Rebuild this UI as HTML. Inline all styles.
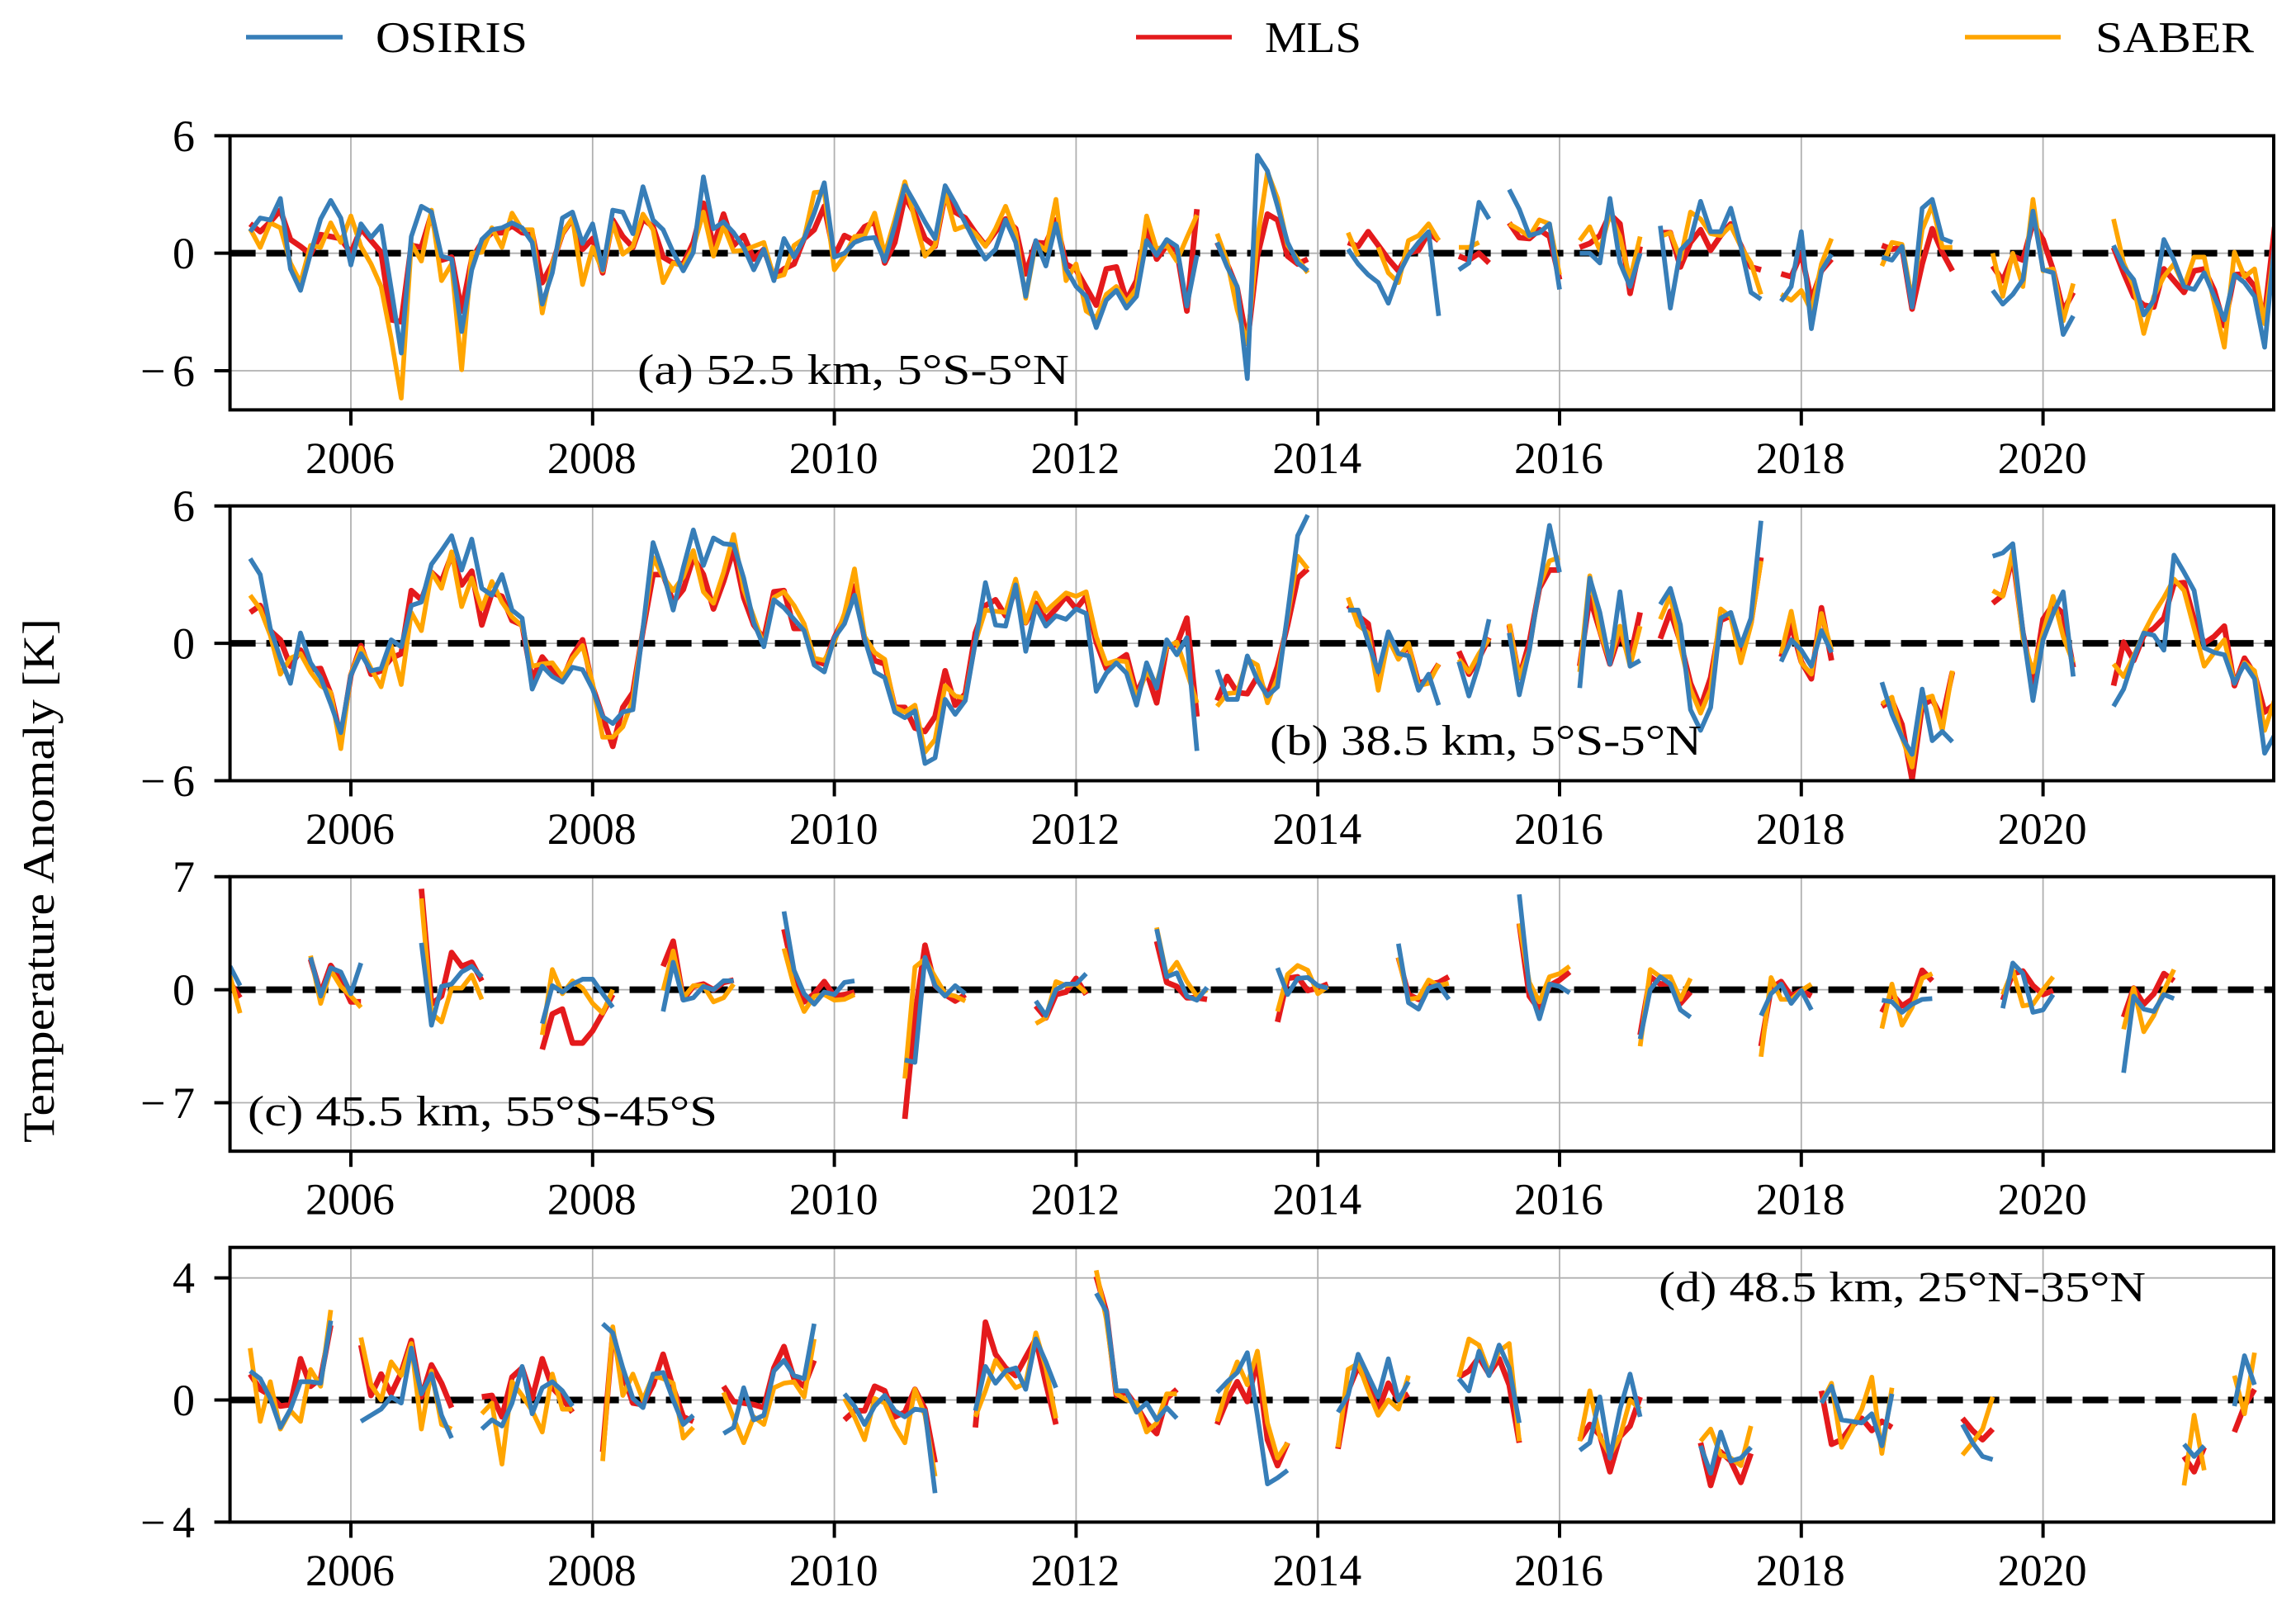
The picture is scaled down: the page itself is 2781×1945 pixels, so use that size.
<!DOCTYPE html>
<html lang="en">
<head>
<meta charset="utf-8">
<title>Temperature Anomaly</title>
<style>
html,body{margin:0;padding:0;background:#fff}
svg{display:block}
text{font-family:"Liberation Serif",serif;fill:#000}
</style>
</head>
<body>
<svg id="chart" xmlns="http://www.w3.org/2000/svg" width="2781" height="1945" viewBox="0 0 2781 1945">
  <rect x="0" y="0" width="2781" height="1945" fill="#ffffff"/>
  <g>
    <g>
      <line x1="298" y1="45" x2="415" y2="45" stroke="#377eb8" stroke-width="5.6"/>
      <text x="455" y="63" font-size="53" textLength="184" lengthAdjust="spacingAndGlyphs">OSIRIS</text>
    </g>
    <g>
      <line x1="1376" y1="45" x2="1492" y2="45" stroke="#e41a1c" stroke-width="5.6"/>
      <text x="1532" y="63" font-size="53" textLength="117" lengthAdjust="spacingAndGlyphs">MLS</text>
    </g>
    <g>
      <line x1="2380" y1="45" x2="2496" y2="45" stroke="#ffa500" stroke-width="5.6"/>
      <text x="2538" y="63" font-size="53" textLength="192" lengthAdjust="spacingAndGlyphs">SABER</text>
    </g>
  </g>
  <text transform="translate(65,1384) rotate(-90)" font-size="54" textLength="635" lengthAdjust="spacingAndGlyphs">Temperature Anomaly [K]</text>
  <g id="panels"></g>
</svg>
<script>
const xTickYears = [2006, 2008, 2010, 2012, 2014, 2016, 2018, 2020];
const startYear = 2005;

const yTicksA = [6, 0, -6];
const yTicksB = [6, 0, -6];
const yTicksC = [7, 0, -7];
const yTicksD = [4, 0, -4];

/* Panel (a): monthly values from Jan 2005, null = no data */
const aOsiris = [null,null,
1.1,1.8,1.7,2.8,-0.8,-1.9,0,1.75,2.7,1.8,-0.6,1.5,0.8,1.4,-1.8,-5.1,0.85,2.4,2.1,-0.15,-0.3,-4.0,-0.85,0.7,1.2,1.3,1.55,1.3,0.55,-2.6,-1.0,1.8,2.1,0.5,1.5,-0.85,2.2,2.1,1.0,3.4,1.7,1.2,0.05,-0.9,0.05,3.9,1.25,1.6,1.05,0.3,-0.85,0.2,-1.4,0.75,-0.2,0.75,2.05,3.6,-0.2,0,0.55,0.75,0.8,-0.4,1.4,3.45,2.55,1.6,0.75,3.45,2.55,1.55,0.55,-0.3,0.2,1.7,0.55,-2.2,0.65,-0.65,1.5,-0.8,-1.7,-2.2,-3.8,-2.4,-1.9,-2.8,-2.2,0.65,-0.1,0.7,0.35,-2.7,-0.1,
null,
0.55,-0.7,-1.7,-6.4,5,4.2,2.4,0.55,-0.5,-0.9,
null,null,null,
0.2,-0.55,-1.1,-1.5,-2.55,-1.1,-0.1,0.55,1.1,-3.2,
null,
-0.85,-0.5,2.6,1.75,
null,
3.25,2.25,0.9,1.05,1.5,-1.85,
null,
0,0,-0.5,2.8,-0.5,-1.7,0,
null,
1.4,-2.8,0.15,0.7,2.65,1.1,1.1,2.3,0.35,-2,-2.35,
null,
-2.45,-1.7,1.1,-3.85,-0.9,-0.05,
null,null,null,null,
-0.2,-0.35,0.35,-2.75,2.3,2.75,0.75,0.55,
null,null,null,
-1.9,-2.6,-2.1,-1.35,2.15,-0.85,-1,-4.15,-3.2,
null,null,null,
0.4,-0.7,-1.35,-3.15,-2.4,0.7,-0.35,-1.7,-1.85,-1,-2.2,-3.4,-1.1,-1.5,-2.2,-4.8,0.55];

const aMls = [null,null,
1.5,1.1,1.6,2.2,0.7,0.35,-0.05,0.95,0.85,0.75,0,1.25,0.65,0.05,-3.4,-3.5,0.4,0.3,2,-0.35,-0.2,-2.95,-0.3,0.55,1.05,1.05,1.4,1.05,1,-1.5,-0.55,1,1.75,0.2,0.75,-1,1.7,0.85,0.3,1.75,1.35,-0.2,-0.5,-0.55,0.55,2.55,0.35,2,0.4,0.9,-0.3,0.2,-1.2,-0.8,-0.55,0.75,1.2,2.4,-0.15,0.9,0.65,1.35,1.6,-0.5,0.55,2.9,2,0.75,0.35,3,2.1,1.8,1.05,0.4,1.1,1.75,1.25,-1.05,0.55,0.5,1.7,-0.55,-0.85,-1.75,-2.65,-0.8,-0.7,-2.4,-1.4,1.35,-0.3,0.4,0.15,-2.95,2.25,
null,
0.55,-0.55,-1.8,-4.6,-0.15,2,1.7,-0.15,-0.55,-0.3,
null,null,null,
0.55,0.35,1.1,0.4,-0.3,-0.9,0,0.15,1.05,0.65,
null,
-0.15,-0.35,0,-0.5,
null,
1.55,0.8,0.75,1.2,0.85,-1.35,
null,
0.3,0.5,0.9,2,1.5,-2.05,0.35,
null,
1.05,1.05,-0.7,0.55,1.2,0.15,0.9,1.5,0.4,-0.7,-0.85,
null,
-1.05,-1.2,0,-2.4,-0.9,-0.3,
null,null,null,null,
0.4,0.2,0.3,-2.85,-0.55,1.25,0.05,-0.9,
null,null,null,
-0.65,-1.4,-0.15,-0.35,1.55,0.7,-0.85,-2.95,-2,
null,null,null,
0.3,-1,-2.2,-2.65,-2.75,-0.8,-1.4,-2,-0.9,-0.8,-1.9,-3.7,-1.1,-1.05,-1.7,-3.2,1.35];

const aSaber = [null,null,
1.25,0.3,1.55,1.3,-0.5,-1.5,0.4,0.3,1.55,0.55,1.9,0.35,-0.55,-1.7,-4.35,-7.4,0.5,-0.4,2.2,-1.4,-0.55,-5.95,0,0.05,1.3,0.3,2.05,1.2,1.2,-3.05,-0.55,1,1.8,-1.6,0.3,-0.9,1.55,-0.05,0.35,2,1.2,-1.5,-0.5,-0.65,0.3,2.1,-0.15,1.4,0.1,0.15,0.35,0.55,-1.25,-1.1,0.4,0.75,3.1,3.15,-0.85,-0.15,0.85,0.9,2.05,-0.05,1.7,3.65,1.7,-0.15,0.4,3.1,1.2,1.4,1,0.35,1.25,2.4,1.05,-2.3,0.55,0.15,2.75,-1.4,-0.55,-2.95,-3.3,-2.1,-1.7,-2.5,-1.8,1.9,0.2,0.4,-0.4,0.8,1.95,
null,
1,-0.4,-2.9,-4.6,0.7,4.15,2.8,0.4,-0.3,-1,
null,null,null,
1.05,-0.15,null,0.3,-1,-1.5,0.65,0.9,1.5,0.65,
null,
0.3,0.3,0.55,null,
null,
1.5,1.2,0.85,1.7,1.5,-1.1,
null,
0.65,1.35,0.15,2,0.85,-1.35,0.85,
null,
0.85,1.05,-0.3,2.1,1.75,1,0.9,1.4,0.35,-0.5,-2.1,
null,
-2.1,-2.4,-1.9,-2.95,-0.55,0.75,
null,null,null,null,
-0.65,0.55,0.45,-2.4,1.2,2.45,0.3,0.3,
null,null,null,
0,-2.2,0,-1.7,2.75,-0.9,-0.8,-3.45,-1.55,
null,null,null,
1.75,-0.5,-1.7,-4.1,-2.2,-1.2,-0.55,-1.7,-0.2,-0.2,-2.55,-4.8,0.05,-1.2,-0.8,-3.6,0.4];

/* Panel (b) */
const bOsiris = [null,null,
3.7,3,0.65,-0.65,-1.75,0.45,-0.85,-1.5,-2.65,-3.9,-1.4,-0.45,-1.2,-1.1,0.15,-0.15,1.65,1.8,3.45,4.05,4.7,3.2,4.55,2.4,2.1,3,1.45,1.1,-2,-1,-1.45,-1.7,-1.05,-1.15,-2,-3.2,-3.5,-3,-2.9,0.65,4.4,3.1,1.45,3.3,4.95,3.4,4.6,4.35,4.3,2.85,0.9,-0.15,1.9,1.55,1.05,0.55,-0.95,-1.25,0.25,0.85,2.1,0.2,-1.25,-1.5,-3,-3.25,-2.95,-5.25,-5,-2.45,-3.1,-2.5,0.05,2.65,0.8,0.75,2.55,-0.35,1.6,0.75,1.2,1.05,1.5,1.3,-2.1,-1.3,-0.85,-1.3,-2.7,-0.85,-1.95,0.15,-0.5,0.25,-4.7,
null,
-1.15,-2.45,-2.45,-0.55,-1.6,-2.3,-1.9,1.3,4.7,5.6,
null,null,null,
1.45,1.45,0.05,-1.25,0.5,-0.45,-0.55,-2.05,-1.35,-2.7,
null,
-0.8,-2.3,-0.9,1.05,
null,
0.45,-2.25,-0.3,2.5,5.15,3.1,
null,
-1.95,2.85,1.35,-0.9,2.25,-1,-0.75,
null,
1.7,2.4,0.8,-2.9,-3.8,-2.8,1.1,1.35,-0.1,1.1,5.35,
null,
-0.8,0.15,-0.3,-1,0.55,-0.4,
null,null,null,null,
-1.7,-3.1,-4.1,-4.85,-2,-4.25,-3.85,-4.3,
null,null,null,
3.8,3.95,4.35,0.55,-2.5,0.15,1.3,2.25,-1.45,
null,null,null,
-2.75,-2,-0.65,0.45,0.35,-0.3,3.85,3.1,2.3,-0.2,-0.4,-0.5,-1.75,-0.9,-1.55,-4.8,-4];

const bMls = [null,null,
1.35,1.65,0.55,0.15,-1,-0.3,-1.15,-1.1,-2.2,-4.15,-1.4,-0.1,-1.35,-1.2,-0.65,-0.45,2.3,1.9,3.1,2.7,3.85,2.55,3.15,0.8,2.2,2.05,1,0.8,-1.6,-0.6,-1.15,-1.6,-0.55,0.15,-1.9,-3.2,-4.5,-2.8,-2.15,0.55,3,3,1.8,2.35,3.75,3,1.5,2.7,4.1,2,0.8,0.2,2.25,2.3,0.65,0.65,-0.75,-0.9,0.25,1.15,2.5,0.2,-0.75,-0.9,-2.8,-2.8,-3.7,-3.85,-3.2,-1.2,-2.7,-2.2,0.45,1.65,1.9,1.2,2.35,0.9,1.75,1.05,1.5,2.05,1.5,2.05,0.05,-1.1,-0.8,-0.5,-2.2,-1.25,-2.6,-0.15,-0.05,1.1,-3.2,
null,
-2.5,-1.45,-2.15,-2.2,-1.45,-2.3,-1,0.8,2.85,3.25,
null,null,null,
1.65,1.2,0.85,-1.75,0.3,-0.65,-0.1,-1.75,-1.6,-0.9,
null,
-0.35,-1.35,-0.65,0.25,
null,
0.8,-1.5,0.05,2.4,3.2,3.2,
null,
-1,2,0.55,-0.9,0.45,-0.65,1.35,
null,
0.2,1.4,0.05,-1.75,-2.8,-1.5,1,1.2,-0.45,0.9,3.75,
null,
-0.6,0.8,-0.8,-1.55,1.55,-0.75,
null,null,null,null,
-2.75,-2.5,-3.55,-5.95,-2.7,-2.45,-3.3,-1.25,
null,null,null,
1.75,2.1,3.8,0.45,-1.75,1.05,1.7,1.3,-1.05,
null,null,null,
-1.85,0.05,-0.75,0.35,0.65,1.1,2.6,2.65,1.05,0,0.3,0.75,-1.85,-0.65,-1.35,-3,-2.65];

const bSaber = [null,null,
2.1,1.5,0.35,-1.35,-0.65,-0.45,-1.25,-1.85,-2.15,-4.6,-1.35,-0.2,-1.1,-1.9,-0.1,-1.8,1.35,0.55,3.1,2.4,4,1.6,2.85,1.5,2.7,1.8,1.15,0.75,-1,-0.9,-0.85,-1.45,-0.65,-0.1,-1.75,-4.1,-4.1,-3.65,-2.45,0.65,3.75,2.9,2.3,2.9,4.05,2.25,1.75,3.1,4.75,2.35,1.15,-0.1,2,2.25,1.65,0.85,-0.65,-0.75,0.05,1.3,3.25,0.3,-0.4,-0.7,-2.8,-3,-2.7,-4.75,-4.2,-1.85,-2.3,-2.4,0.05,1.45,1.4,1.35,2.8,0.9,2.2,1.4,1.8,2.2,2.05,2.25,0.3,-0.9,-0.75,-0.8,-2.4,-1.25,-1.75,-0.15,0.05,-1.25,-2.6,
null,
-2.75,-2.2,-2.15,-0.7,-0.95,-2.6,-1.5,1.15,3.8,3.25,
null,null,null,
2,0.8,0.45,-2.05,0.2,-0.7,0,-1.85,-1.75,-0.9,
null,
-0.7,-1.25,-0.45,0.2,
null,
0.85,-1.5,-0.3,2.5,3.6,3.75,
null,
-1.25,2.95,0.55,-0.8,0.75,-1,0.75,
null,
1.05,2.1,-0.15,-2,-3.05,-2,1.5,1.15,-0.85,0.8,3.6,
null,
-0.45,1.4,-0.85,-1.35,1.3,-0.3,
null,null,null,null,
-2.65,-2.35,-4.1,-5.4,-2.45,-2.3,-3.8,-1.2,
null,null,null,
2.3,2.05,4.05,0.2,-1.25,0.45,2.05,0.3,-0.85,
null,null,null,
-0.9,-1.45,-0.55,0.45,1.3,2,2.8,2.3,0.65,-1,-0.4,0.15,-1.75,-0.85,-1.2,-3.8,-2.45];

/* Panel (c) */
const cOsiris = [1.45,0.25,
null,null,null,null,null,null,
2,-0.4,1.35,1.1,-0.25,1.65,
null,null,null,null,null,
2.9,-2.2,0.2,0.35,1.1,1.45,0.8,
null,null,null,null,null,
-2.1,0.25,-0.15,0.35,0.65,0.65,-0.25,-1.1,
null,null,null,null,
-1.35,1.7,-0.65,-0.5,0.2,0,0.55,0.55,
null,null,null,null,
4.85,1.2,-0.25,-0.9,-0.15,-0.3,0.45,0.55,
null,null,null,null,
-4.35,-4.5,2,0.25,-0.4,0.25,-0.25,
null,null,null,null,null,null,
-0.7,-1.6,0,0.35,0.35,1,
null,null,null,null,null,null,
3.75,0.8,1.05,-0.4,-0.65,0.15,
null,null,null,null,null,null,
1.35,-0.3,0.7,0.75,0.25,0.1,
null,null,null,null,null,null,
2.85,-0.8,-1.2,0.1,0.3,-0.6,
null,null,null,null,null,null,
5.9,0.1,-1.8,0.35,0.2,-0.2,
null,null,null,null,null,null,
-3.05,0,0.8,0.35,-1.25,-1.7,
null,null,null,null,null,null,
-1.6,-0.25,0.35,-0.85,-0.05,-1.25,
null,null,null,null,null,null,
-0.65,-0.75,-1.4,-0.9,-0.6,-0.55,
null,null,null,null,null,null,
-1.15,1.65,1,-1.4,-1.25,-0.3,
null,null,null,null,null,null,
-5.15,-0.4,-1.2,-1.35,-0.3,-0.55];

const cMls = [0.45,-0.5,
null,null,null,null,null,null,
1.9,-0.25,1.5,0.6,-0.75,-0.75,
null,null,null,null,null,
6.25,-0.9,-0.4,2.3,1.45,1.7,0.55,
null,null,null,null,null,
-3.7,-1.5,-1.2,-3.3,-3.3,-2.55,-1.45,-0.3,
null,null,null,null,
1.45,3,-0.6,0.2,0.35,0,0.45,0.6,
null,null,null,null,
3.75,0.85,-0.75,-0.25,0.5,-0.4,-0.3,-0.15,
null,null,null,null,
-8,-1.6,2.75,0.25,-0.3,-0.7,-0.3,
null,null,null,null,null,null,
-1,-1.75,-0.3,-0.15,0.7,-0.3,
null,null,null,null,null,null,
3,0.45,0.2,-0.5,-0.5,-0.6,
null,null,null,null,null,null,
-2,0.7,0.8,-0.05,0.1,0.35,
null,null,null,null,null,null,
2,-0.3,-0.6,0.35,0.45,0.8,
null,null,null,null,null,null,
4.1,-0.4,-1.25,0.25,0.6,1.1,
null,null,null,null,null,null,
-2.8,0.8,0.35,0.4,-0.85,-0.15,
null,null,null,null,null,null,
-3.5,0.1,0.5,-0.4,-0.05,-0.4,
null,null,null,null,null,null,
-1.4,-0.25,-1,-0.6,1.2,0.55,
null,null,null,null,null,null,
-0.65,1,1.15,0.25,-0.3,-0.05,
null,null,null,null,null,null,
-1.7,0.1,-0.9,-0.25,1,0.55];

const cSaber = [0.85,-1.45,
null,null,null,null,null,null,
2.1,-0.85,1.2,0.2,-0.4,-1.1,
null,null,null,null,null,
5.65,-1.45,-2,0.1,0.1,0.9,-0.6,
null,null,null,null,null,
-2.8,1.25,-0.25,0.55,0.1,-0.85,-1.45,0,
null,null,null,null,
-0.05,2.4,-0.5,0.25,0.25,-0.75,-0.5,0.35,
null,null,null,null,
2.55,0.2,-1.35,-0.4,-0.3,-0.65,-0.6,-0.3,
null,null,null,null,
-5.5,1.4,1.9,0.8,-0.25,-0.4,-0.7,
null,null,null,null,null,null,
-2.1,-1.75,0.5,0.25,0.35,-0.2,
null,null,null,null,null,null,
3.85,0.85,1.7,0.5,-0.4,0,
null,null,null,null,null,null,
-1.35,0.95,1.5,1.2,-0.25,0.2,
null,null,null,null,null,null,
2,-0.6,-0.5,0.6,0.25,0.4,
null,null,null,null,null,null,
4.1,0.45,-0.75,0.8,1,1.45,
null,null,null,null,null,null,
-3.5,1.25,0.8,0.8,-0.6,0.7,
null,null,null,null,null,null,
-4.15,0.75,-0.6,-0.6,-0.05,0.35,
null,null,null,null,null,null,
-2.4,0.35,-2.2,-1.1,0.7,1,
null,null,null,null,null,null,
-0.3,1.2,-1,-0.9,0,0.8,
null,null,null,null,null,null,
-2.45,0.1,-2.6,-1.6,-0.05,1.25];

/* Panel (d) */
const dOsiris = [null,null,
0.95,0.7,0.05,-0.9,-0.3,0.6,0.6,0.55,2.6,
null,null,
-0.7,-0.5,-0.3,0.1,-0.1,1.7,0.2,0.85,-0.5,-1.25,
null,null,
-0.95,-0.65,-0.85,-0.1,1.1,-0.45,0.4,0.6,0.3,-0.2,
null,null,
2.5,2.2,1.05,0.05,-0.25,0.85,0.9,0,-0.8,-0.5,
null,null,
-1.1,-0.9,0.4,-0.65,-0.5,0.95,1.3,0.8,0.7,2.5,
null,null,
0.2,-0.2,-0.8,-0.2,0.15,-0.35,-0.55,-0.3,-0.35,-3.05,
null,null,null,
-0.35,1.1,0.55,0.95,1.05,0.35,2,1.25,0.4,
null,null,null,
3.5,2.9,0.3,0.3,-0.4,-0.1,-0.65,-0.25,-0.6,
null,null,null,
0.25,0.6,0.9,1.55,-0.5,-2.75,-2.55,-2.3,
null,null,null,null,
-0.4,0.15,1.5,0.8,0.1,1.35,0,0.6,
null,null,null,null,
0.7,0.3,1.6,0.8,1.8,1.05,-0.75,
null,null,null,null,null,
-1.65,-1.4,0.1,-1.9,-0.3,0.85,-0.55,
null,null,null,null,null,
-1.5,-2.4,-1.05,-2,-1.9,-1.55,
null,null,null,null,null,null,
-0.1,0.45,-0.65,-0.7,-0.75,-0.45,-1.5,0.2,
null,null,null,null,null,null,
-0.8,-1.4,-1.85,-1.95,
null,null,null,null,null,null,null,null,null,null,null,null,null,null,null,null,null,null,
-1.45,-1.85,-1.5,
null,null,
-0.2,1.45,0.5];

const dMls = [null,null,
0.85,0.35,0.15,-0.2,-0.15,1.35,0.45,0.7,2.45,
null,null,
1.8,0.15,0.85,0.2,0.9,1.95,0.1,1.15,0.55,-0.25,
null,null,
0.1,0.15,-0.55,0.75,1.05,0.05,1.35,0.4,0.05,-0.4,
null,null,
-1.7,2.2,0.85,-0.1,-0.15,0.5,1.5,0.4,-0.55,-0.7,
null,null,
0.45,-0.05,-0.1,-0.15,-0.25,1.05,1.75,0.7,0.45,1.3,
null,null,
-0.65,-0.35,-0.35,0.45,0.3,-0.55,-0.4,0.35,-0.3,-2.05,
null,null,null,
-0.9,2.55,1.5,1.05,0.8,1.4,2,0.55,-0.8,
null,null,null,
4.05,2.9,0.15,0.25,-0.2,-0.75,-1.1,0.05,0.35,
null,null,null,
-0.8,0,0.6,-0.05,1.3,-1.3,-2.15,-1.4,
null,null,null,null,
-1.6,0.3,1.1,0.5,-0.35,0.55,0,0.2,
null,null,null,null,
0.75,0.95,1.4,0.85,1.35,0.5,-1.4,
null,null,null,null,null,
-1.3,-0.8,-1.15,-2.35,-1.2,-0.85,0.1,
null,null,null,null,null,
-1.4,-2.8,-1.7,-2,-2.7,-1.75,
null,null,null,null,null,null,
0.3,-1.45,-1.3,-0.85,-0.6,-1,-0.7,-0.9,
null,null,null,null,null,null,
-0.6,-1,-1.3,-0.95,
null,null,null,null,null,null,null,null,null,null,null,null,null,null,null,null,null,null,
-1.85,-2.35,-1.55,
null,null,
-1.05,-0.2,0.35];

const dSaber = [null,null,
1.7,-0.7,0.6,-0.95,-0.35,-0.7,1,0.45,2.95,
null,null,
2.05,0.5,0,1.25,0.8,1.85,-0.95,0.95,-0.8,-0.95,
null,null,
-0.45,-0.1,-2.1,0.6,0.15,-0.35,-1.05,0.85,-0.3,-0.3,
null,null,
-2,2.4,0.15,0.85,0,0.8,0.7,0.55,-1.25,-0.9,
null,null,
0.25,-0.6,-1.4,-0.55,-0.8,0.4,0.55,0.6,0.1,2,
null,null,
0.05,-0.55,-1.3,0.05,-0.1,-0.85,-1.4,0.35,-0.5,-2.5,
null,null,null,
-0.55,0.3,1.3,0.85,0.4,0.55,2.2,1.05,-0.6,
null,null,null,
4.25,2.65,0.2,0,-0.1,-1.05,-0.75,0.2,0.2,
null,null,null,
-0.7,0.4,1.25,0.5,1.6,-0.75,-1.9,-1.4,
null,null,null,null,
-1.55,1,1.2,0.3,-0.5,0,-0.3,0.8,
null,null,null,null,
0.75,2,1.8,0.9,1.6,1.85,-1.35,
null,null,null,null,null,
-1.35,0.3,-1.2,-1.8,-1.2,0,-0.3,
null,null,null,null,null,
-1.35,-0.95,-1.8,-1.9,-2.15,-0.85,
null,null,null,null,null,null,
-0.1,0.55,-1.55,-0.95,-0.3,0.75,-1.75,0.4,
null,null,null,null,null,null,
-1.8,-1.4,-0.95,0.1,
null,null,null,null,null,null,null,null,null,null,null,null,null,null,null,null,null,null,
-2.8,-0.5,-2.3,
null,null,
0.8,-0.45,1.55];

const NS = 'http://www.w3.org/2000/svg';
const plotLeft = 278.6;
const plotRight = 2754;
const pxPerYear = 146.4;
const COLORS = { osiris: '#377eb8', mls: '#e41a1c', saber: '#ffa500' };
const WIDTHS = { osiris: 5.7, mls: 6.8, saber: 5.7 };

const layouts = [
  { id: 'a', top: 164.4, bottom: 496.4, yMax: 6, yMin: -8, ticks: yTicksA, label: '(a) 52.5 km, 5°S-5°N', lx: 772, ly: 465, lw: 523, mls: aMls, saber: aSaber, osiris: aOsiris },
  { id: 'b', top: 612.7, bottom: 945.5, yMax: 6, yMin: -6, ticks: yTicksB, label: '(b) 38.5 km, 5°S-5°N', lx: 1538, ly: 914, lw: 523, mls: bMls, saber: bSaber, osiris: bOsiris },
  { id: 'c', top: 1061.7, bottom: 1394.2, yMax: 7, yMin: -10, ticks: yTicksC, label: '(c) 45.5 km, 55°S-45°S', lx: 300, ly: 1363, lw: 569, mls: cMls, saber: cSaber, osiris: cOsiris },
  { id: 'd', top: 1510.7, bottom: 1843.4, yMax: 5, yMin: -4, ticks: yTicksD, label: '(d) 48.5 km, 25°N-35°N', lx: 2009, ly: 1576, lw: 590, mls: dMls, saber: dSaber, osiris: dOsiris }
];

function xScale(year) {
  return plotLeft + (year - startYear) * pxPerYear;
}
function monthToYear(m) {
  return startYear + m / 12;
}
function makeYScale(p) {
  return function (v) {
    return p.top + (p.yMax - v) * (p.bottom - p.top) / (p.yMax - p.yMin);
  };
}
function svgEl(tag, attrs) {
  const el = document.createElementNS(NS, tag);
  for (const k in attrs) el.setAttribute(k, attrs[k]);
  return el;
}
function linePath(values, yScale) {
  let d = '';
  let pen = false;
  values.forEach(function (v, m) {
    if (v === null) { pen = false; return; }
    d += (pen ? 'L' : 'M') + xScale(monthToYear(m)).toFixed(1) + ' ' + yScale(v).toFixed(1);
    pen = true;
  });
  return d;
}
function formatTick(v) {
  return v < 0 ? '\u2212' + Math.abs(v) : String(v);
}

const root = document.getElementById('panels');

layouts.forEach(function (p) {
  const y = makeYScale(p);

  const g = svgEl('g', {});
  
  
  root.appendChild(g);

  const clip = svgEl('clipPath', { id: 'clip-' + p.id });
  const clipRect = svgEl('rect', { x: plotLeft, y: p.top, width: plotRight - plotLeft, height: p.bottom - p.top });
  clip.appendChild(clipRect);
  g.appendChild(clip);

  xTickYears.forEach(function (yr) {
    const grid = svgEl('line', { x1: xScale(yr), x2: xScale(yr), y1: p.top, y2: p.bottom, stroke: '#b0b0b0', 'stroke-width': 1.8 });
    
    
    g.appendChild(grid);
  });
  p.ticks.forEach(function (t) {
    const grid = svgEl('line', { x1: plotLeft, x2: plotRight, y1: y(t), y2: y(t), stroke: '#b0b0b0', 'stroke-width': 1.8 });
    
    
    g.appendChild(grid);
  });

  const plotArea = svgEl('g', { 'clip-path': 'url(#clip-' + p.id + ')' });
  
  
  g.appendChild(plotArea);

  const zero = svgEl('line', { x1: plotLeft, x2: plotRight, y1: y(0), y2: y(0), stroke: '#000', 'stroke-width': 8, 'stroke-dasharray': '31 13' });
  
  
  plotArea.appendChild(zero);

  ['mls', 'saber', 'osiris'].forEach(function (s) {
    const path = svgEl('path', { d: linePath(p[s], y), fill: 'none', stroke: COLORS[s], 'stroke-width': WIDTHS[s], 'stroke-linejoin': 'round', 'stroke-linecap': 'butt' });
    
    
    plotArea.appendChild(path);
  });

  const frame = svgEl('rect', { x: plotLeft, y: p.top, width: plotRight - plotLeft, height: p.bottom - p.top, fill: 'none', stroke: '#000', 'stroke-width': 4 });
  
  
  g.appendChild(frame);

  xTickYears.forEach(function (yr) {
    const tick = svgEl('line', { x1: xScale(yr), x2: xScale(yr), y1: p.bottom, y2: p.bottom + 19, stroke: '#000', 'stroke-width': 4 });
    
    
    g.appendChild(tick);
    const lab = svgEl('text', { x: xScale(yr) - 1, y: p.bottom + 76.5, 'font-size': 54, 'text-anchor': 'middle' });
    lab.textContent = String(yr);
    
    
    g.appendChild(lab);
  });

  p.ticks.forEach(function (t) {
    const tick = svgEl('line', { x1: plotLeft - 19, x2: plotLeft, y1: y(t), y2: y(t), stroke: '#000', 'stroke-width': 4 });
    
    
    g.appendChild(tick);
    const lab = svgEl('text', { x: 236, y: y(t) + 18.5, 'font-size': 54, 'text-anchor': 'end' });
    if (t < 0) {
      lab.setAttribute('textLength', '66');
      lab.setAttribute('lengthAdjust', 'spacing');
    }
    lab.textContent = formatTick(t);
    
    
    g.appendChild(lab);
  });

  const ann = svgEl('text', { x: p.lx, y: p.ly, 'font-size': 52, textLength: p.lw, lengthAdjust: 'spacingAndGlyphs' });
  ann.textContent = p.label;
  
  
  g.appendChild(ann);
});
</script>
</body>
</html>
